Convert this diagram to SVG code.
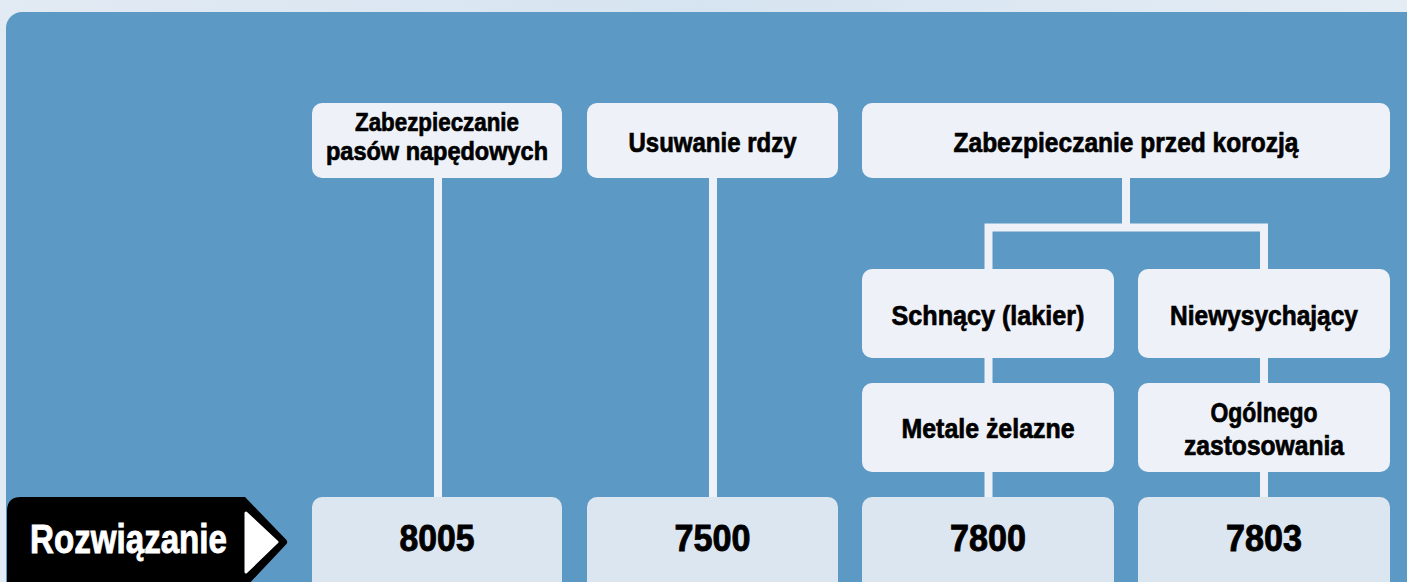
<svg xmlns="http://www.w3.org/2000/svg" width="1407" height="582" viewBox="0 0 1407 582">
<defs>
<linearGradient id="topg" x1="0" y1="0" x2="1" y2="0">
<stop offset="0" stop-color="#e2eaf3"/>
<stop offset="0.5" stop-color="#d6e4f1"/>
<stop offset="1" stop-color="#e4ecf4"/>
</linearGradient>
</defs>
<style>
.node{fill:#eef2f8}
.sol{fill:#dce6f0}
.t{font-family:"Liberation Sans",Arial,sans-serif;font-weight:bold;font-size:28px;fill:#000;stroke:#000;stroke-width:0.7;text-anchor:middle}
.t2{font-size:26px}
.n{font-family:"Liberation Sans",Arial,sans-serif;font-weight:bold;font-size:37px;fill:#000;stroke:#000;stroke-width:0.9;text-anchor:middle}
.con{fill:none;stroke:#eef2f8;stroke-width:8}
</style>
<rect x="0" y="0" width="1407" height="582" fill="url(#topg)"/>
<rect x="6" y="12" width="1430" height="600" rx="16" ry="16" fill="#5d99c5"/>

<g id="connectors">
<line class="con" x1="438" y1="178" x2="438" y2="497"/>
<line class="con" x1="713" y1="178" x2="713" y2="497"/>
<line class="con" x1="1126" y1="178" x2="1126" y2="227"/>
<polyline class="con" points="988.5,270 988.5,227.5 1264,227.5 1264,270"/>
<line class="con" x1="988.5" y1="358" x2="988.5" y2="384"/>
<line class="con" x1="1264" y1="358" x2="1264" y2="384"/>
<line class="con" x1="988.5" y1="472" x2="988.5" y2="498"/>
<line class="con" x1="1264" y1="472" x2="1264" y2="498"/>
</g>

<g id="node-pasy">
<rect class="node" x="312" y="103" width="250" height="75" rx="10"/>
<text class="t t2" x="437" y="131" textLength="164" lengthAdjust="spacingAndGlyphs">Zabezpieczanie</text>
<text class="t t2" x="437" y="160" textLength="222" lengthAdjust="spacingAndGlyphs">pasów napędowych</text>
</g>
<g id="node-rdza">
<rect class="node" x="587" y="103" width="251" height="75" rx="10"/>
<text class="t" x="712.5" y="152" textLength="168" lengthAdjust="spacingAndGlyphs">Usuwanie rdzy</text>
</g>
<g id="node-korozja">
<rect class="node" x="862" y="103" width="528" height="75" rx="10"/>
<text class="t" x="1126" y="152" textLength="345" lengthAdjust="spacingAndGlyphs">Zabezpieczanie przed korozją</text>
</g>
<g id="node-schnacy">
<rect class="node" x="862" y="269" width="252" height="89" rx="10"/>
<text class="t" x="988" y="325" textLength="193" lengthAdjust="spacingAndGlyphs">Schnący (lakier)</text>
</g>
<g id="node-niewysychajacy">
<rect class="node" x="1138" y="269" width="252" height="89" rx="10"/>
<text class="t" x="1264" y="325" textLength="188" lengthAdjust="spacingAndGlyphs">Niewysychający</text>
</g>
<g id="node-metale">
<rect class="node" x="862" y="383" width="252" height="89" rx="10"/>
<text class="t" x="988" y="438" textLength="173" lengthAdjust="spacingAndGlyphs">Metale żelazne</text>
</g>
<g id="node-ogolnego">
<rect class="node" x="1138" y="383" width="252" height="89" rx="10"/>
<text class="t" x="1264" y="422" textLength="107" lengthAdjust="spacingAndGlyphs">Ogólnego</text>
<text class="t" x="1264" y="455" textLength="160" lengthAdjust="spacingAndGlyphs">zastosowania</text>
</g>

<g id="label-rozwiazanie">
<path d="M21,497 H245 L286,539.5 Q288.5,542 286,544.5 L245,588 H7 V511 Q7,497 21,497 Z" fill="#000"/>
<path d="M246,513 L277,542 L246,572 Z" fill="#fff" stroke="#fff" stroke-width="3" stroke-linejoin="round"/>
<text x="128.5" y="553" font-family="'Liberation Sans',Arial,sans-serif" font-weight="bold" font-size="40" fill="#fff" stroke="#fff" stroke-width="0.9" text-anchor="middle" textLength="197" lengthAdjust="spacingAndGlyphs">Rozwiązanie</text>
</g>
<g id="sol-8005">
<rect class="sol" x="312" y="497" width="250" height="110" rx="10"/>
<text class="n" x="437" y="551" textLength="75" lengthAdjust="spacingAndGlyphs">8005</text>
</g>
<g id="sol-7500">
<rect class="sol" x="587" y="497" width="251" height="110" rx="10"/>
<text class="n" x="712.5" y="551" textLength="76" lengthAdjust="spacingAndGlyphs">7500</text>
</g>
<g id="sol-7800">
<rect class="sol" x="862" y="497" width="252" height="110" rx="10"/>
<text class="n" x="988" y="551" textLength="76" lengthAdjust="spacingAndGlyphs">7800</text>
</g>
<g id="sol-7803">
<rect class="sol" x="1138" y="497" width="252" height="110" rx="10"/>
<text class="n" x="1264" y="551" textLength="76" lengthAdjust="spacingAndGlyphs">7803</text>
</g>
</svg>
